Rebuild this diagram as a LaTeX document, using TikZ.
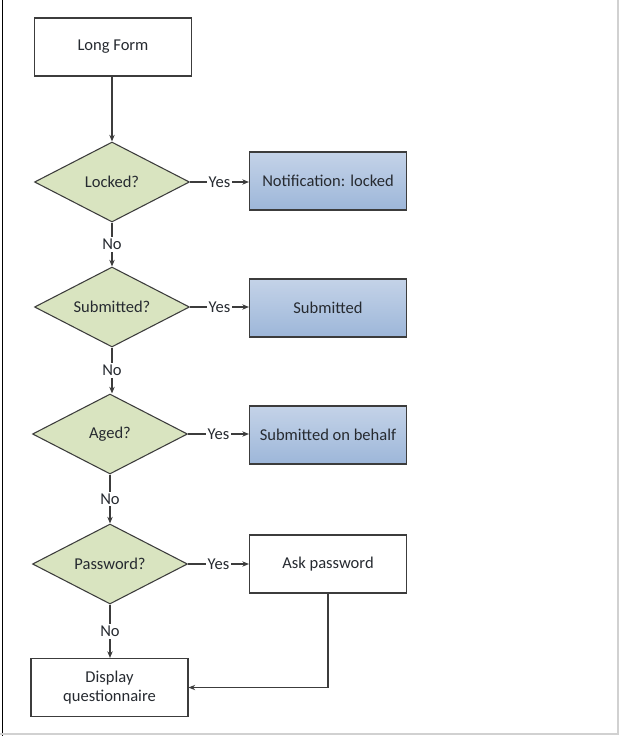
\documentclass[tikz,border=0pt]{standalone}
\usepackage{fontspec}
\setmainfont{Carlito}
\usetikzlibrary{shapes.geometric,arrows.meta}
\definecolor{txt}{HTML}{262A30}
\definecolor{ln}{HTML}{3C3C3C}
\definecolor{dfill}{HTML}{D9E4C0}
\definecolor{btop}{HTML}{C4D3E8}
\definecolor{bbot}{HTML}{9DB6D9}
\tikzset{
  every node/.style={font=\fontsize{12.4}{14.5}\selectfont, text=txt},
  plainbox/.style={draw=ln, line width=0.8pt, fill=white, minimum width=117.75pt, minimum height=43.5pt, inner sep=0pt, align=center},
  bluebox/.style={plainbox, top color=btop, bottom color=bbot},
  decision/.style={diamond, draw=ln, line width=0.8pt, fill=dfill, minimum width=116.25pt, minimum height=60pt, shape aspect=1.94, inner sep=0pt},
  conn/.style={draw=ln, line width=0.8pt, -{Stealth[length=5pt, width=4pt]}},
  lbl/.style={fill=white, inner sep=1.5pt}
}
\begin{document}
\begin{tikzpicture}[x=0.75pt, y=-0.75pt]
\useasboundingbox[fill=white] (0,0) rectangle (621,736);
\draw[black, line width=1.2pt] (2.5,0) -- (2.5,736);
\draw[black!18, line width=1.2pt] (0,734) -- (618,734) -- (618,0);

\node[plainbox] (lf) at (113,47) {Long Form};
\node[decision] (d1) at (112,182) {Locked?};
\node[decision] (d2) at (112,307) {Submitted?};
\node[decision] (d3) at (110,434) {Aged?};
\node[decision] (d4) at (110,564) {Password?};

\node[bluebox] (b1) at (328,181) {Notification: locked};
\node[bluebox] (b2) at (328,308) {Submitted};
\node[bluebox] (b3) at (328,435) {Submitted on behalf};
\node[plainbox] (b4) at (328,564) {Ask password};
\node[plainbox] (disp) at (109.5,687.5) {Display\\questionnaire};

\draw[conn] (lf.south -| d1.north) -- (d1.north);
\draw[conn] (d1.east) -- node[lbl] {Yes} (b1.west |- d1.east);
\draw[conn] (d2.east) -- node[lbl] {Yes} (b2.west |- d2.east);
\draw[conn] (d3.east) -- node[lbl] {Yes} (b3.west |- d3.east);
\draw[conn] (d4.east) -- node[lbl] {Yes} (b4.west |- d4.east);
\draw[conn] (d1.south) -- node[lbl] {No} (d2.north);
\draw[conn] (d2.south) -- node[lbl] {No} (d3.north -| d2.south);
\draw[conn] (d3.south) -- node[lbl] {No} (d4.north);
\draw[conn] (d4.south) -- node[lbl] {No} (disp.north -| d4.south);
\draw[conn] (b4.south) |- (disp.east);
\end{tikzpicture}
\end{document}
